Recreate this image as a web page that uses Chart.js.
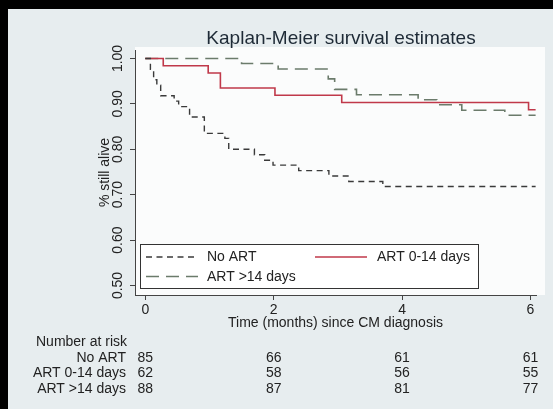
<!DOCTYPE html>
<html><head><meta charset="utf-8">
<script src="https://cdn.jsdelivr.net/npm/chart.js@4.4.1/dist/chart.umd.min.js"></script>
<style>
html,body{margin:0;padding:0;background:#000;width:553px;height:409px;overflow:hidden}
#wrap{position:absolute;left:8px;top:9px;width:545px;height:400px}
canvas{display:block}
</style></head><body>
<div id="wrap"><canvas id="c" width="545" height="400"></canvas></div>
<script>
// ---- data ----
const titleText = "Kaplan-Meier survival estimates";
const seriesNames = ["No ART", "ART 0-14 days", "ART >14 days"];

const noArtTimes = [0, 0.08, 0.13, 0.18, 0.24, 0.45, 0.52, 0.69, 0.92, 1.24, 1.30, 1.70, 1.86, 1.99, 2.39, 2.86, 3.17, 3.70, 6.08];
const noArtSurv  = [1.000, 0.976, 0.953, 0.941, 0.918, 0.906, 0.894, 0.871, 0.835, 0.824, 0.800, 0.788, 0.776, 0.765, 0.753, 0.741, 0.729, 0.718, 0.718];

const art014Times = [0, 0.28, 0.98, 1.17, 2.02, 3.06, 5.97, 6.08];
const art014Surv  = [1.000, 0.984, 0.968, 0.935, 0.919, 0.903, 0.887, 0.887];

const art14Times = [0, 1.50, 2.07, 2.85, 2.95, 3.29, 4.25, 4.54, 4.93, 5.60, 6.08];
const art14Surv  = [1.000, 0.989, 0.977, 0.955, 0.932, 0.920, 0.909, 0.898, 0.886, 0.875, 0.875];

const xTicks = [0, 2, 4, 6];
const yTicks = [0.5, 0.6, 0.7, 0.8, 0.9, 1.0];
const yTickLabels = ["0.50", "0.60", "0.70", "0.80", "0.90", "1.00"];
const xTitle = "Time (months) since CM diagnosis";
const yTitle = "% still alive";

const riskHeader = "Number at risk";
const riskTimes = [0, 2, 4, 6];
const riskNoArt = [85, 66, 61, 61];
const riskArt014 = [62, 58, 56, 55];
const riskArt14 = [88, 87, 81, 77];

// ---- styles ----
const FONT = '"Liberation Sans", Arial, sans-serif';
const colors = ["#3a3a3a", "#c0394a", "#6b7b6b"];
const dashes = [[6, 4.5], [], [13, 7]];

function pts(t, s) { return t.map((v, i) => ({x: v, y: s[i]})); }
const riskRows = [riskNoArt, riskArt014, riskArt14];

const bgPlugin = {
  id: 'bg',
  beforeDraw(chart) {
    const {ctx, chartArea: a} = chart;
    ctx.save();
    ctx.fillStyle = '#e7edef';
    ctx.fillRect(0, 0, chart.width, chart.height);
    ctx.fillStyle = '#fbfcfc';
    ctx.fillRect(a.left, a.top - 3, a.right - a.left + 9, a.bottom - a.top + 3);
    ctx.restore();
  }
};

const overlay = {
  id: 'overlay',
  afterDraw(chart) {
    const {ctx, scales: {x, y}, chartArea: a} = chart;
    ctx.save();
    // title
    ctx.fillStyle = '#1e2a36';
    ctx.font = '19px ' + FONT;
    ctx.textAlign = 'center';
    ctx.textBaseline = 'alphabetic';
    ctx.fillText(titleText, 333, 34.5);
    // y tick labels (rotated)
    ctx.font = '14px ' + FONT;
    ctx.fillStyle = '#222';
    yTicks.forEach((v, i) => {
      const py = y.getPixelForValue(v);
      ctx.save();
      ctx.translate(110.5, py);
      ctx.rotate(-Math.PI / 2);
      ctx.textAlign = 'center';
      ctx.textBaseline = 'middle';
      ctx.fillText(yTickLabels[i], 0, 0);
      ctx.restore();
    });
    // y title
    ctx.save();
    ctx.translate(97, (a.top + a.bottom) / 2);
    ctx.rotate(-Math.PI / 2);
    ctx.textAlign = 'center';
    ctx.textBaseline = 'middle';
    ctx.fillText(yTitle, 0, 0);
    ctx.restore();
    // legend
    const lx0 = 132, ly0 = 235, lx1 = 470, ly1 = 279;
    ctx.fillStyle = '#ffffff';
    ctx.fillRect(lx0, ly0, lx1 - lx0, ly1 - ly0);
    ctx.strokeStyle = '#333';
    ctx.lineWidth = 1;
    ctx.strokeRect(lx0 + 0.5, ly0 + 0.5, lx1 - lx0, ly1 - ly0);
    const entries = [
      {i: 0, sx: 138, tx: 199, cy: 248},
      {i: 1, sx: 307, tx: 369, cy: 248},
      {i: 2, sx: 138, tx: 199, cy: 267.5}
    ];
    entries.forEach(e => {
      ctx.save();
      ctx.strokeStyle = colors[e.i];
      ctx.lineWidth = 1.5;
      ctx.setLineDash(dashes[e.i]);
      ctx.beginPath();
      ctx.moveTo(e.sx, e.cy);
      ctx.lineTo(e.sx + 52, e.cy);
      ctx.stroke();
      ctx.restore();
      ctx.fillStyle = '#222';
      ctx.textAlign = 'left';
      ctx.textBaseline = 'middle';
      ctx.fillText(seriesNames[e.i], e.tx, e.cy + 0.5);
    });
    // number at risk table
    const rowY = [333, 349.3, 364.6, 380];
    ctx.fillStyle = '#222';
    ctx.textBaseline = 'middle';
    ctx.textAlign = 'right';
    ctx.fillText(riskHeader, 119, rowY[0]);
    seriesNames.forEach((n, r) => {
      ctx.textAlign = 'right';
      ctx.fillText(n, 118, rowY[r + 1]);
      ctx.textAlign = 'center';
      riskTimes.forEach((t, k) => {
        ctx.fillText(String(riskRows[r][k]), x.getPixelForValue(t), rowY[r + 1]);
      });
    });
    ctx.restore();
  }
};

new Chart(document.getElementById('c'), {
  type: 'line',
  data: {
    datasets: [
      {label: seriesNames[0], data: pts(noArtTimes, noArtSurv), borderColor: colors[0], borderDash: dashes[0], borderWidth: 1.4, stepped: 'before', pointRadius: 0, fill: false},
      {label: seriesNames[1], data: pts(art014Times, art014Surv), borderColor: colors[1], borderWidth: 1.6, stepped: 'before', pointRadius: 0, fill: false},
      {label: seriesNames[2], data: pts(art14Times, art14Surv), borderColor: colors[2], borderDash: dashes[2], borderWidth: 1.6, stepped: 'before', pointRadius: 0, fill: false}
    ]
  },
  options: {
    responsive: false,
    animation: false,
    layout: {padding: {left: 122, right: 17, top: 41, bottom: 74}},
    plugins: {legend: {display: false}, title: {display: false}, tooltip: {enabled: false}},
    scales: {
      x: {
        type: 'linear', min: -0.16, max: 6.086,
        afterBuildTicks: s => { s.ticks = xTicks.map(v => ({value: v})); },
        afterFit: s => { s.height = 40; },
        ticks: {font: {size: 14, family: FONT}, color: '#222', padding: 2, maxRotation: 0, autoSkip: false},
        grid: {drawOnChartArea: false, tickLength: 5, color: '#444'},
        border: {color: '#444', width: 1},
        title: {display: true, text: xTitle, font: {size: 14, family: FONT}, color: '#222', padding: {top: 0, bottom: 3}}
      },
      y: {
        min: 0.479, max: 1.0187,
        afterBuildTicks: s => { s.ticks = yTicks.map(v => ({value: v})); },
        afterFit: s => { s.width = 5; },
        ticks: {display: false},
        grid: {drawOnChartArea: false, tickLength: 5, color: '#444'},
        border: {color: '#444', width: 1}
      }
    }
  },
  plugins: [bgPlugin, overlay]
});
</script>
</body></html>
